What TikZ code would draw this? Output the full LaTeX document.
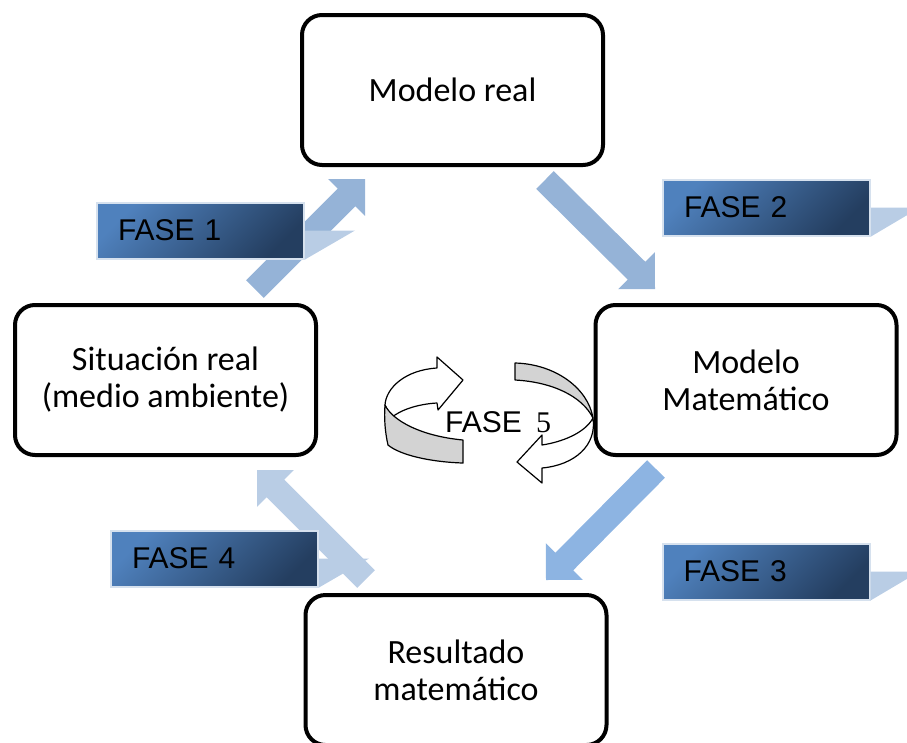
\documentclass[tikz,border=0pt]{standalone}
\usepackage{fontspec}
\setmainfont{Carlito}
\newfontfamily\arialfont{Liberation Sans}
\newfontfamily\timesfont{Liberation Serif}
\usetikzlibrary{calc}
\definecolor{arrowA}{RGB}{149,179,215}
\definecolor{arrowB}{RGB}{141,180,226}
\definecolor{arrowC}{RGB}{185,205,229}
\definecolor{gradL}{RGB}{79,129,189}
\definecolor{gradD}{RGB}{36,62,96}
\definecolor{phaseborder}{RGB}{214,225,238}
\definecolor{ribbon}{RGB}{211,211,211}
\newcommand\blockarrow[4]{% name, tail, tip, colour
  \coordinate (#1-h) at ($(#3)!26pt!(#2)$);
  \fill[#4] ($(#2)!12.5pt!90:(#3)$) -- ($(#1-h)!12.5pt!90:(#3)$) -- ($(#1-h)!26pt!90:(#3)$)
    -- (#3) -- ($(#1-h)!26pt!-90:(#3)$) -- ($(#1-h)!12.5pt!-90:(#3)$) -- ($(#2)!12.5pt!-90:(#3)$) -- cycle;
}
\tikzset{
  mainbox/.style={draw=black, line width=4pt, rounded corners=20pt, fill=white,
    minimum width=301pt, minimum height=150pt, inner sep=0pt, align=center,
    font=\fontsize{34}{37}\selectfont},
  phasebox/.style={draw=phaseborder, line width=2pt, top color=gradL, bottom color=gradD,
    shading angle=45, text width=165pt, inner xsep=21pt, inner ysep=0pt,
    minimum height=56pt, align=left, font=\arialfont\fontsize{30}{32}\selectfont},
  callout/.style={fill=arrowC},
  ribbonline/.style={draw=black, line width=1.2pt, line join=round},
}
\begin{document}
\begin{tikzpicture}[x=1pt, y=-1pt]
\useasboundingbox (0,0) rectangle (907,742);
\clip (0,0) rectangle (907,742);

% main boxes
\node[mainbox] (real) at (452.5,90) {Modelo real};
\node[mainbox] (situ) at (165.5,380) {Situación real\\(medio ambiente)};
\node[mainbox] (mate) at (746,380) {Modelo\\Matemático};
\node[mainbox] (resu) at (456,670) {Resultado\\matemático};

% block arrows
\coordinate (a1s) at (255,289); \coordinate (a1t) at (365,179);
\coordinate (a2s) at (545,180); \coordinate (a2t) at (655,289);
\coordinate (a3s) at (656,469); \coordinate (a3t) at (546,580);
\coordinate (a4s) at (366,579); \coordinate (a4t) at (257,470);
\blockarrow{a1}{a1s}{a1t}{arrowA}
\blockarrow{a2}{a2s}{a2t}{arrowA}
\blockarrow{a3}{a3s}{a3t}{arrowB}
\blockarrow{a4}{a4s}{a4t}{arrowC}

% phase labels
\node[phasebox] (f1) at (200.5,230.5) {FASE 1};
\node[phasebox] (f2) at (766.5,207.5) {FASE 2};
\node[phasebox] (f3) at (766,571.5) {FASE 3};
\node[phasebox] (f4) at (214.5,558.5) {FASE 4};
\fill[callout] (f1.east) -- ++(50,0) -- (f1.south east) -- cycle;
\fill[callout] (f2.east) -- ++(49,0) -- (f2.south east) -- cycle;
\fill[callout] (f3.east) -- ++(49,0) -- (f3.south east) -- cycle;
\fill[callout] (f4.east) -- ++(50,0) -- (f4.south east) -- cycle;

% FASE 5 circular arrow
\filldraw[ribbonline, fill=white] (463,380) -- (438,410) -- (437,403)
  .. controls (418,404) and (400,410) .. (391,418) -- (385,405)
  .. controls (386,388) and (405,370) .. (437,368) -- (437,357) -- cycle;
\filldraw[ribbonline, fill=ribbon] (385,405) .. controls (392,420) and (420,436) .. (463,440)
  -- (463,463) .. controls (430,462) and (400,455) .. (388,445)
  .. controls (385,432) and (384,418) .. (385,405) -- cycle;
\filldraw[ribbonline, fill=ribbon] (515,363) .. controls (555,364) and (588,388) .. (593,418)
  .. controls (582,396) and (552,382) .. (515,380) -- cycle;
\filldraw[ribbonline, fill=white] (593,418) .. controls (597,445) and (575,465) .. (542,468)
  -- (542,483) -- (517,462) -- (542,435) -- (542,445)
  .. controls (562,442) and (585,433) .. (593,418) -- cycle;
\node[anchor=base west, inner sep=0pt, font=\arialfont\fontsize{30}{32}\selectfont] (f5) at (445,432)
  {FASE \kern6pt{\timesfont 5}};
\end{tikzpicture}
\end{document}
